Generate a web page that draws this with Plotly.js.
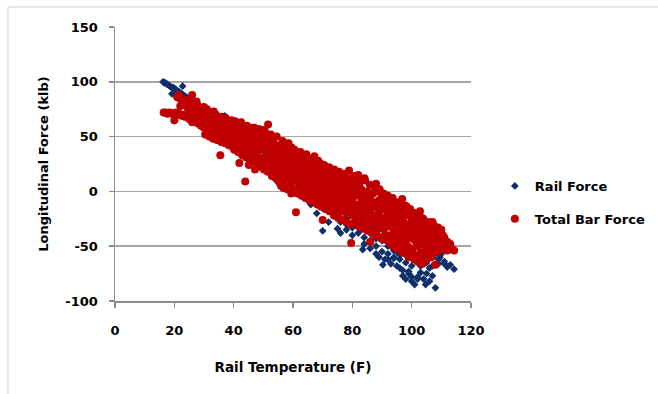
<!DOCTYPE html>
<html>
<head>
<meta charset="utf-8">
<script src="https://cdn.plot.ly/plotly-3.0.1.min.js"></script>
<style>html,body{margin:0;padding:0;background:#fff;}#chart{width:658px;height:394px;}</style>
</head>
<body>
<div id="chart"></div>
<script>
// Rail Force points [temperature F, force klb]
const railForce = [
[16.2,100],[16.6,99],[17.0,99],[17.5,98],[18.0,97],[18.5,96],[19.0,95],[19.5,95],[20.0,94],[20.5,93],[21.0,92],[21.5,91],[22.0,90],[22.8,96],[22.5,89],[23.0,88],[23.5,87],[24.0,86],[24.5,85],[25.0,84],[20.3,88],[21.2,85],[19.2,89],[26,82],[27,80],[28,78],[22.5,80],[23.5,78],[24.8,76],[25.5,78],[29,76],[30,74],[31,72],[32,71],[33,70],[37,69],[34,66],[35,65],[36,63],[38,61],[39,60],[40,58],[41,56],[42,55],[43,53],[44,51],[45,49],[46,47],[47,46],[48,44],[49,42],[50,40],[51,38],[52,36],[53,35],[54,33],[55,31],[56,29],[57,27],[58,26],[59,24],[60,22],
[40,45],[42,43],[44,38],[46,35],[48,30],[50,28],[52,24],[54,20],[56,15],[58,12],[60,8],[62,5],[64,2],[66,-2],[68,-8],[70,-15],[72,-18],[74,-22],[76,-28],[78,-30],[80,-33],[82,-38],[84,-42],[86,-46],[88,-50],[90,-55],[92,-57],[94,-60],[96,-62],[98,-65],[100,-68],
[61,15],[63,10],[65,12],[67,5],[69,2],[71,-5],[73,-8],[75,-10],[77,-15],[79,-18],[81,-20],[83,-25],[85,-28],[87,-30],[89,-35],[91,-38],[93,-40],[95,-45],[97,-48],[99,-50],[101,-52],[103,-55],[105,-58],[107,-60],[109,-62],[111,-64],[113,-67],[114.3,-71],[112,-69],[109.5,-60],[108,-88],[104.7,-85],[101,-85],[97,-77],[90.3,-67],[94,-61],[83.5,-53],[75,-34],[70,-36],[81,7],[102,-80],[103,-74],[99,-73],[96,-70],[100,-78],[105,-75],[106,-70],[98,-58],[95,-55],[92,-50],[90,-45],[87,-40],[85,-36],[104,-48],[106,-55],[108,-52],[110,-57],[102,-62],[100,-58],[97,-55],[93,-48],[88,-43],[86,-45],[82,-30],[78,-25],[76,-20],[74,-12],[72,-10],[70,-5],[68,0],[66,5],[64,10],[62,12],[60,15],[58,18],[56,22],[54,25],[52,28],[50,32],[80,-12],[84,-15],[89,-22],[92,-28],[96,-35],[100,-40],[104,-45],
[86,-52],[88,-57],[89,-60],[91,-62],[93,-66],[95,-68],[97,-72],[99,-75],[100,-82],[102,-78],[104,-80],[106,-82],[107,-77],[103,-68],[105,-65],[107,-68],[109,-66],[111,-66],[96,-58],[94,-54],[92,-62],[98,-80],[84,-48],[80,-40],[78,-35],[76,-38],[72,-28],[68,-20],[66,-12],[64,-6],[62,0],[58,5],[56,8]
];
// Total Bar Force points [temperature F, force klb]
const totalBarForce = [
[16.4,72],[17,72],[17.5,71],[18,71],[18.5,72],[19,71],[19.5,71],[20,70],[20.5,72],[21,70],[21.5,71],[20,65],[22,70],[22.5,69],[23,70],[23.5,68],[24,69],
[21,86],[21.5,88],[22,85],[22.5,84],[23,83],[24,82],[25,84],[26,88],[27,80],[28,78],[25.5,80],[26.5,79],[23.5,80],[22,78],[27.5,82],[29,76],[30,77],[31,75],
[25,70],[25,66],[26,68],[26,63],[27,72],[27,65],[28,70],[28,62],[29,68],[29,60],[30,70],[30,64],[30,58],[31,67],[31,61],[32,72],[32,65],[32,58],[33,68],[33,62],[33,55],[34,70],[34,64],[34,58],[35,66],[35,60],[35,54],[35.5,33],[36,68],[36,62],[36,56],[36,50],[37,65],[37,60],[37,52],[38,64],[38,58],[38,50],[39,62],[39,56],[39,48],[40,60],[40,55],[40,50],[40,44],[41,62],[41,54],[41,46],[42,58],[42,52],[42,45],[43,57],[43,50],[43,42],[44,56],[44,48],[44,40],[43.9,9],[45,55],[45,47],[45,38],[46,54],[46,46],[46,36],[47,58],[47,50],[47,42],[47,32],[48,52],[48,44],[48,36],[49,50],[49,42],[49,30],[50,46],[50,38],[50,28],[51,48],[51,40],[51,30],[51.6,61],[52,44],[52,35],[52,25],[53,42],[53,34],[53,22],[54,40],[54,30],[54,18],[55,38],[55,28],[55,15],[56,40],[56,30],[56,20],[56,5],[57,35],[57,25],[57,10],[58,36],[58,26],[58,15],[59,32],[59,22],[59,8],[60,34],[60,24],[60,12],[60,0],[61,30],[61,20],[61,-19],[62,28],[62,18],[62,5],[63,32],[63,22],[63,10],[64,26],[64,14],[64,0],[65,30],[65,20],[65,8],[66,24],[66,12],[66,-5],[67,22],[67,10],[67,-2],[68,26],[68,14],[68,0],[69,18],[69,6],[69,-10],[70,20],[70,8],[70,-4],[70,-26],[71,15],[71,2],[71,-12],[72,14],[72,4],[72,-8],[73,10],[73,0],[73,-15],[74,12],[74,-2],[74,-12],[75,14],[75,5],[75,-8],[76,8],[76,-4],[76,-18],[77,10],[77,-5],[77,-15],[78,8],[78,-6],[78,-20],[79,5],[79,-10],[79.6,-47],[80,2],[80,-8],[80,-22],[81,4],[81,-12],[81,-28],[82,15],[82,0],[82,-15],[83,2],[83,-10],[83,-22],[84,-4],[84,-16],[84,-30],[85,0],[85,-12],[85,-25],[86,-6],[86,-18],[86,-35],[87,-2],[87,-14],[87,-28],[88,7],[88,-10],[88,-22],[88,-38],[89,-8],[89,-20],[89,-32],[90,-5],[90,-16],[90,-28],[91,-12],[91,-24],[91,-40],[92,-10],[92,-20],[92,-32],[93,-14],[93,-26],[93,-44],[94,-12],[94,-22],[94,-36],[95,-18],[95,-30],[95,-42],[96,-14],[96,-26],[96,-38],[96.8,-7],[97,-20],[97,-32],[97,-50],[98,-22],[98,-34],[98,-46],[99,-18],[99,-30],[99,-42],[100,-24],[100,-36],[100,-52],[101,-28],[101,-40],[101,-58],[102,-26],[102,-38],[102,-50],[102.8,-18],[103,-30],[103,-42],[103,-56],[104,-28],[104,-40],[104,-60],[105,-32],[105,-44],[105,-55],[106,-30],[106,-42],[106,-52],[107,-28],[107,-38],[107,-48],[108,-67],[108,-34],[108,-44],[109,-36],[109,-46],[110,-35],[110,-48],[111,-44],[111,-50],[112,-46],[113,-50],[114.3,-54],[104,-62],[102,-64],[99,-60],[97,-56],[95,-52],
[24.5,76],[25.2,73],[25.8,75],[26.3,71],[26.8,74],[27.3,68],[27.8,76],[28.3,73],[28.7,66],[29.2,72],[29.6,64],[30.2,73],[30.6,61],[31.2,70],[31.6,63],[32.3,68],[32.7,60],[33.3,73],[33.6,64],[34.2,61],[34.6,68],[35.3,63],[35.7,57],[36.2,65],[36.6,59],[37.3,67],[37.6,55],[38.3,61],[38.7,53],[39.3,65],[39.6,58],[40.3,62],[40.6,52],[41.3,58],[41.7,49],[42.3,61],[42.7,54],[43.3,47],[43.6,59],[44.3,52],[44.7,44],[45.3,57],[45.7,50],[46.3,42],[46.6,51],[47.3,47],[47.7,38],[48.3,55],[48.6,48],[49.3,39],[49.7,45],[50.3,52],[50.6,42],[51.3,35],[51.7,45],[52.3,40],[52.7,30],[53.3,47],[53.7,38],[54.3,28],[54.7,42],[55.3,33],[55.7,22],[56.3,36],[56.7,27],[57.3,40],[57.7,30],[58.3,20],[58.7,33],[59.3,26],[59.7,14],[60.3,30],[60.7,18],[61.3,36],[61.7,24],[62.3,12],[62.7,30],[63.3,16],[63.7,4],[64.3,22],[64.7,8],[65.3,25],[65.7,14],[66.3,2],[66.7,18],[67.3,6],[67.7,14],[68.3,20],[68.7,4],[69.3,12],[69.7,-2],[70.3,14],[70.7,-8],[71.3,8],[71.7,20],[72.3,-4],[72.7,10],[73.3,16],[73.7,-8],[74.3,4],[74.7,-16],[75.3,9],[75.7,-12],[76.3,2],[76.7,15],[77.3,-10],[77.7,0],[78.3,-14],[78.7,12],[79.3,-4],[79.7,-18],[80.3,8],[80.7,-14],[81.3,-4],[81.7,-22],[82.3,6],[82.7,-18],[83.3,-6],[83.7,-26],[84.3,10],[84.7,-8],[85.3,-20],[85.7,-30],[86.3,-2],[86.7,-12],[87.3,-24],[87.7,-36],[88.3,0],[88.7,-16],[89.3,-26],[89.7,-42],[90.3,-12],[90.7,-34],[91.3,-4],[91.7,-18],[92.3,-26],[92.7,-40],[93.3,-8],[93.7,-20],[94.3,-30],[94.7,-46],[95.3,-24],[95.7,-36],[96.3,-20],[96.7,-44],[97.3,-28],[97.7,-38],[98.3,-14],[98.7,-50],[99.3,-36],[99.7,-54],[100.3,-30],[100.7,-44],[101.3,-20],[101.7,-48],[102.3,-34],[102.7,-60],[103.3,-24],[103.7,-48],[104.3,-36],[104.7,-52],[105.3,-40],[105.7,-48],[106.3,-36],[106.7,-58],[107.3,-44],[107.7,-32],[108.3,-40],[108.7,-50],[109.3,-42],[110.5,-40],[111.5,-48],[112.5,-50],[113.5,-52],
[29,70],[30,68],[31,64],[32,62],[33,66],[34,60],[35,62],[36,58],[37,63],[38,56],[39,59],[40,57],[41,51],[42,48],[43,55],[44,45],[45,51],[46,49],[47,45],[48,40],[49,46],[50,43],[51,37],[52,32],[53,38],[54,35],[55,34],[56,26],[57,30],[58,22],[59,28],[60,20],[61,26],[62,22],[63,26],[64,18],[65,14],[66,16],[67,16],[68,8],[69,12],[53,29],[55,20],[57,18],[59,16],[61,10],[63,2],[65,0],[67,-6],[69,-4],[71,-6],[73,-6],[75,-2],[77,2],[79,-2],
[30.4,52],[31.1,56],[31.8,50],[32.5,54],[33.1,48],[33.8,52],[34.4,47],[35.1,50],[35.8,45],[36.4,48],[37.1,44],[37.8,47],[38.4,42],[39.1,45],[39.8,40],[30.8,66],[32.1,67],[33.5,58],[34.9,56],[36.8,53],[38.9,51],
[40.2,38],[40.9,42],[41.5,36],[42.2,40],[42.9,33],[43.5,37],[44.2,31],[44.9,35],[45.5,29],[46.2,33],[46.9,27],[47.5,30],[48.2,25],[48.9,28],[49.5,22],[41.9,26],[45.1,24],[47.2,20],[40.5,64],[42.5,63],[44.5,60],[46.5,58],[48.5,57],[49.8,56],
[50.2,20],[50.9,24],[51.5,18],[52.2,21],[52.9,14],[53.5,17],[54.2,12],[54.9,10],[55.5,8],[56.1,13],[56.8,3],[57.4,6],[58.1,2],[58.8,4],[59.4,-2],[50.5,55],[52.5,52],[54.5,50],[56.5,46],[58.5,44],[59.5,40],[53.1,26],[57.9,11],
[60.2,2],[61.5,-2],[62.9,-4],[64.2,-6],[65.5,-8],[66.9,-10],[68.2,-12],[69.5,-14],[60.5,38],[62.5,36],[64.5,34],[66.5,30],[68.5,28],[69.5,25],[61.8,32],[65.9,27],[67.2,32],
[70.9,-16],[72.3,-18],[73.8,-22],[75.2,-24],[76.6,-26],[78.1,-28],[79.5,-30],[70.5,24],[72.2,22],[73.9,20],[75.5,18],[77.2,16],[78.9,19],
[80.8,-28],[82.2,-32],[83.6,-34],[85.1,-36],[86.5,-38],[87.9,-40],[89.3,-42],[80.6,14],[82.4,10],[84.1,12],[85.9,6],[87.6,4],[89.2,2],[86.1,-46],
[90.8,-44],[92.2,-46],[93.6,-50],[95.0,-52],[96.5,-54],[97.9,-56],[99.3,-58],[90.5,-2],[92.0,-4],[93.6,-6],[95.2,-10],[96.3,-12],[98.0,-13],[99.5,-16],
[100.8,-62],[102.2,-64],[103.7,-66],[105.2,-62],[106.6,-60],[108.0,-56],[109.5,-54],[100.7,-20],[101.9,-22],[103.9,-25],[105.6,-28],[107.2,-30],[108.9,-33],[110.2,-44],[111.0,-42],[112.0,-54],[113.0,-48]
];
const seriesNames = ["Rail Force", "Total Bar Force"];
const xTicks = [0, 20, 40, 60, 80, 100, 120];
const yTicks = [-100, -50, 0, 50, 100, 150];

const FONT = "'DejaVu Sans', sans-serif";
const traces = [
  {
    type: "scatter", mode: "markers", name: seriesNames[0], legendgroup: "a",
    x: railForce.map(p => p[0]), y: railForce.map(p => p[1]),
    marker: {symbol: "diamond", size: 6, color: "#0f2f6b"}
  },
  {
    type: "scatter", mode: "markers", name: seriesNames[1], legendgroup: "b",
    x: totalBarForce.map(p => p[0]), y: totalBarForce.map(p => p[1]),
    marker: {symbol: "circle", size: 8, color: "#c00000"}
  }
];
const axisCommon = {
  showline: true, linecolor: "#8c8c8c", linewidth: 1.5,
  ticks: "outside", ticklen: 5, tickcolor: "#8c8c8c", tickwidth: 1.5,
  zeroline: false,
  tickfont: {family: FONT, size: 13, color: "#000", weight: "bold"}
};
const layout = {
  width: 658, height: 394,
  margin: {l: 115, r: 187, t: 27, b: 93, autoexpand: false},
  paper_bgcolor: "#fff", plot_bgcolor: "#fff",
  font: {family: FONT, color: "#000"},
  showlegend: true,
  legend: {
    x: 1.067, xanchor: "left", y: 0.3595, yanchor: "middle",
    font: {family: FONT, size: 13, color: "#000", weight: "bold"},
    tracegroupgap: 13, traceorder: "grouped", itemsizing: "trace"
  },
  xaxis: Object.assign({}, axisCommon, {
    range: [0, 120], tickvals: xTicks, ticktext: xTicks.map(String),
    showgrid: false, ticklabelstandoff: 12,
    title: {text: "Rail Temperature (F)", font: {family: FONT, size: 13.5, color: "#000", weight: "bold"}, standoff: 25}
  }),
  yaxis: Object.assign({}, axisCommon, {
    range: [-100, 150], tickvals: yTicks, ticktext: yTicks.map(String),
    showgrid: true, gridcolor: "#a6a6a6", gridwidth: 1.5, ticklabelstandoff: 8,
    title: {text: "Longitudinal Force (klb)", font: {family: FONT, size: 13, color: "#000", weight: "bold"}, standoff: 14}
  }),
  shapes: [{
    type: "rect", xref: "paper", yref: "paper",
    x0: -0.3006, x1: 1.6, y0: -0.4, y1: 1.073,
    line: {color: "#d0d0d0", width: 1}, fillcolor: "rgba(0,0,0,0)", layer: "below"
  }]
};
Plotly.newPlot("chart", traces, layout, {displayModeBar: false, staticPlot: true});
</script>
</body>
</html>
